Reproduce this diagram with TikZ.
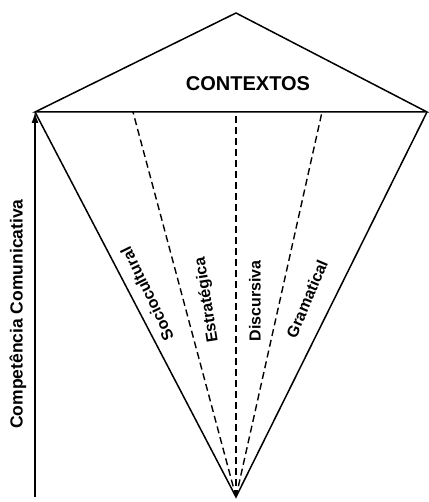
\documentclass[tikz,border=0pt]{standalone}
\usepackage{fontspec}
\setmainfont{Liberation Sans}
\usetikzlibrary{arrows.meta}
\begin{document}
\begin{tikzpicture}[x=1pt,y=-1pt,
  solidline/.style={line width=1.5pt, line join=miter},
  dashline/.style={line width=1.4pt, dash pattern=on 7pt off 4pt},
  lab/.style={font=\fontsize{16}{18}\selectfont\bfseries, inner sep=0pt}]
\useasboundingbox (0,0) rectangle (428,502);
\fill[white] (0,0) rectangle (428,502);
% corners
\coordinate (T) at (236,13);
\coordinate (L) at (35,112);
\coordinate (R) at (427,112);
\coordinate (B) at (236,497);
\coordinate (D1) at (133,112);
\coordinate (D2) at (236,112);
\coordinate (D3) at (322,112);
\coordinate (A0) at (35,497);
% roof
\draw[solidline] (L) -- (T) -- (R) -- cycle;
% kite body
\draw[solidline] (L) -- (B) -- (R);
% dashed dividers
\draw[dashline] (B) -- (D1);
\draw[dashline] (B) -- (D2);
\draw[dashline] (B) -- (D3);
% arrow
\draw[line width=1.5pt, -{Latex[length=11pt,width=7pt]}] (A0) -- (L);
% texts
\node[font=\fontsize{20}{22}\selectfont\bfseries, inner sep=0pt] (ctx) at (248,84) {CONTEXTOS};
\node[font=\fontsize{17.5}{20}\selectfont\bfseries, inner sep=0pt, rotate=90] (cc) at (18,314) {Competência Comunicativa};
\node[lab, rotate=116] (soc) at (147,294) {Sociocultural};
\node[lab, rotate=99] (est) at (207,300) {Estratégica};
\node[lab, rotate=90] (dis) at (255,301) {Discursiva};
\node[lab, rotate=67] (gra) at (307,299) {Gramatical};
\end{tikzpicture}
\end{document}
